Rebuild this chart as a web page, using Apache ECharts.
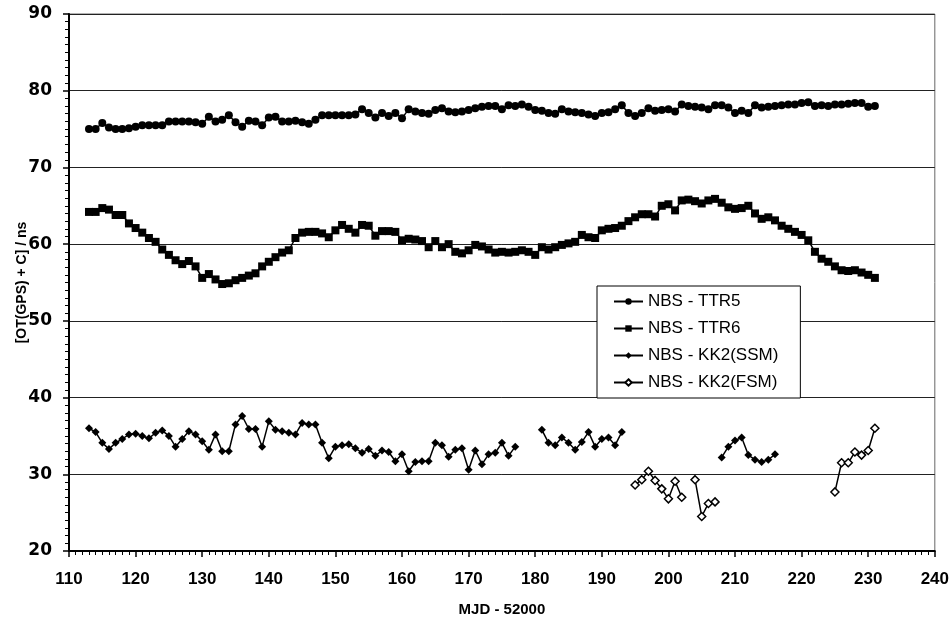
<!DOCTYPE html>
<html>
<head>
<meta charset="utf-8">
<script src="https://cdn.jsdelivr.net/npm/echarts@6/dist/echarts.min.js"></script>
<style>
  html, body { margin: 0; padding: 0; background: #fff; }
  #chart { width: 952px; height: 622px; }
</style>
</head>
<body>
<div id="chart"></div>
<script>
// MJD - 52000 for the two TTR receivers (one point per day)
var ttrDays = [
  113, 114, 115, 116, 117, 118, 119, 120, 121, 122,
  123, 124, 125, 126, 127, 128, 129, 130, 131, 132,
  133, 134, 135, 136, 137, 138, 139, 140, 141, 142,
  143, 144, 145, 146, 147, 148, 149, 150, 151, 152,
  153, 154, 155, 156, 157, 158, 159, 160, 161, 162,
  163, 164, 165, 166, 167, 168, 169, 170, 171, 172,
  173, 174, 175, 176, 177, 178, 179, 180, 181, 182,
  183, 184, 185, 186, 187, 188, 189, 190, 191, 192,
  193, 194, 195, 196, 197, 198, 199, 200, 201, 202,
  203, 204, 205, 206, 207, 208, 209, 210, 211, 212,
  213, 214, 215, 216, 217, 218, 219, 220, 221, 222,
  223, 224, 225, 226, 227, 228, 229, 230, 231
];
var ttr5 = [
  75.0, 75.0, 75.8, 75.2, 75.0, 75.0, 75.1, 75.3, 75.5, 75.5,
  75.5, 75.5, 76.0, 76.0, 76.0, 76.0, 75.9, 75.7, 76.6, 76.0,
  76.2, 76.8, 75.9, 75.3, 76.1, 76.0, 75.5, 76.5, 76.6, 76.0,
  76.0, 76.1, 75.9, 75.7, 76.2, 76.8, 76.8, 76.8, 76.8, 76.8,
  76.9, 77.6, 77.1, 76.5, 77.1, 76.7, 77.1, 76.4, 77.6, 77.3,
  77.1, 77.0, 77.5, 77.7, 77.3, 77.2, 77.3, 77.5, 77.7, 77.9,
  78.0, 78.0, 77.6, 78.1, 78.0, 78.2, 77.9, 77.5, 77.4, 77.1,
  77.0, 77.6, 77.3, 77.2, 77.1, 76.9, 76.7, 77.1, 77.2, 77.6,
  78.1, 77.1, 76.7, 77.1, 77.7, 77.4, 77.5, 77.6, 77.3, 78.2,
  78.0, 77.9, 77.8, 77.6, 78.1, 78.1, 77.8, 77.1, 77.4, 77.1,
  78.1, 77.8, 77.9, 78.0, 78.1, 78.2, 78.2, 78.4, 78.5, 78.0,
  78.1, 78.0, 78.2, 78.2, 78.3, 78.4, 78.4, 77.9, 78.0
];
var ttr6 = [
  64.2, 64.2, 64.7, 64.5, 63.8, 63.8, 62.7, 62.1, 61.5, 60.8,
  60.3, 59.3, 58.6, 57.9, 57.4, 57.8, 57.1, 55.6, 56.1, 55.4,
  54.8, 54.9, 55.3, 55.6, 55.9, 56.2, 57.1, 57.7, 58.3, 58.9,
  59.2, 60.8, 61.5, 61.6, 61.6, 61.4, 60.9, 61.8, 62.5, 62.0,
  61.5, 62.5, 62.4, 61.1, 61.7, 61.7, 61.6, 60.5, 60.7, 60.6,
  60.4, 59.6, 60.4, 59.6, 60.0, 59.0, 58.8, 59.2, 59.9, 59.7,
  59.3, 58.9, 59.0, 58.9, 59.0, 59.2, 59.0, 58.6, 59.6, 59.3,
  59.6, 59.9, 60.1, 60.3, 61.2, 60.9, 60.8, 61.8, 62.0, 62.1,
  62.4, 63.0, 63.5, 63.9, 63.9, 63.6, 65.0, 65.2, 64.4, 65.7,
  65.8, 65.6, 65.3, 65.7, 65.9, 65.4, 64.8, 64.6, 64.7, 65.0,
  64.0, 63.3, 63.5, 63.1, 62.4, 62.0, 61.6, 61.2, 60.5, 59.0,
  58.1, 57.7, 57.1, 56.6, 56.5, 56.6, 56.3, 56.0, 55.6
];

// KK2 single-station mode, null marks a break in the line
var ssmDays = [
  113, 114, 115, 116, 117, 118, 119, 120, 121, 122,
  123, 124, 125, 126, 127, 128, 129, 130, 131, 132,
  133, 134, 135, 136, 137, 138, 139, 140, 141, 142,
  143, 144, 145, 146, 147, 148, 149, 150, 151, 152,
  153, 154, 155, 156, 157, 158, 159, 160, 161, 162,
  163, 164, 165, 166, 167, 168, 169, 170, 171, 172,
  173, 174, 175, 176, 177, 178,
  181, 182, 183, 184, 185, 186, 187, 188, 189, 190,
  191, 192, 193, 194,
  208, 209, 210, 211, 212, 213, 214, 215, 216
];
var ssm = [
  36.0, 35.5, 34.1, 33.3, 34.1, 34.6, 35.2, 35.3, 35.0, 34.7,
  35.4, 35.7, 35.0, 33.6, 34.6, 35.6, 35.2, 34.3, 33.2, 35.2,
  33.0, 33.0, 36.5, 37.6, 35.9, 35.9, 33.6, 36.9, 35.8, 35.6,
  35.4, 35.2, 36.7, 36.5, 36.5, 34.1, 32.1, 33.6, 33.8, 33.9,
  33.4, 32.8, 33.3, 32.4, 33.1, 32.9, 31.7, 32.6, 30.4, 31.6,
  31.7, 31.7, 34.1, 33.8, 32.3, 33.2, 33.4, 30.6, 33.1, 31.3,
  32.6, 32.8, 34.1, 32.4, 33.6, null,
  35.8, 34.1, 33.8, 34.8, 34.1, 33.2, 34.2, 35.5, 33.6, 34.6,
  34.8, 33.8, 35.5, null,
  32.2, 33.6, 34.4, 34.8, 32.5, 31.9, 31.6, 31.9, 32.6
];

// KK2 in the other mode
var fsmDays = [195, 196, 197, 198, 199, 200, 201, 202, 203, 204, 205, 206, 207, 208,
  225, 226, 227, 228, 229, 230, 231];
var fsm = [28.6, 29.3, 30.4, 29.2, 28.1, 26.8, 29.1, 27.0, null, 29.3, 24.5, 26.2, 26.4, null,
  27.7, 31.5, 31.5, 32.9, 32.5, 33.1, 36.0];

var seriesNames = ["NBS - TTR5", "NBS - TTR6", "NBS - KK2(SSM)", "NBS - KK2(FSM)"];

function pairs(xs, ys) {
  var out = [];
  for (var i = 0; i < xs.length; i++) {
    out.push([xs[i], ys[i] === null ? "-" : ys[i]]);
  }
  return out;
}

var chartDom = document.getElementById("chart");
var myChart = echarts.init(chartDom, null, { renderer: "canvas" });
var option;

var lineStyle = { color: "#000", width: 1.5 };

option = {
  animation: false,
  backgroundColor: "#fff",
  textStyle: { fontFamily: "Liberation Sans, Arial, sans-serif", color: "#000" },
  grid: {
    left: 69,
    right: 16,
    top: 14,
    bottom: 71,
    show: true,
    borderColor: "#666",
    borderWidth: 1,
  },
  legend: {
    orient: "vertical",
    left: 597,
    top: 286,
    data: seriesNames,
    backgroundColor: "#fff",
    borderColor: "#000",
    borderWidth: 1,
    borderRadius: 0,
    padding: [7, 22, 7, 16],
    itemGap: 10,
    itemWidth: 29,
    itemHeight: 8,
    textStyle: {
      fontSize: 17,
      color: "#000",
      fontFamily: "Liberation Sans, Arial, sans-serif",
    },
  },
  xAxis: {
    type: "value",
    min: 110,
    max: 240,
    interval: 10,
    name: "MJD - 52000",
    nameLocation: "middle",
    nameGap: 51,
    nameMoveOverlap: false,
    nameTextStyle: { fontSize: 15, fontWeight: "bold", color: "#000" },
    axisLine: { lineStyle: { color: "#000", width: 2 } },
    axisTick: { show: true, length: 6, lineStyle: { color: "#000", width: 1.5 } },
    minorTick: { show: true, splitNumber: 10, length: 4, lineStyle: { color: "#000", width: 1 } },
    axisLabel: { margin: 20, fontSize: 17, fontWeight: "bold", color: "#000" },
    splitLine: { show: false },
  },
  yAxis: {
    type: "value",
    min: 20,
    max: 90,
    interval: 10,
    name: "[OT(GPS) + C] / ns",
    nameLocation: "middle",
    nameGap: 40,
    nameMoveOverlap: false,
    nameTextStyle: { fontSize: 14, fontWeight: "bold", color: "#000" },
    axisLine: { show: true, lineStyle: { color: "#000", width: 2 } },
    axisTick: { show: true, length: 6, lineStyle: { color: "#000", width: 1.5 } },
    minorTick: { show: true, splitNumber: 10, length: 4, lineStyle: { color: "#000", width: 1 } },
    axisLabel: {
      margin: 17,
      fontSize: 17,
      fontWeight: "bold",
      color: "#000",
      fontFamily: "DejaVu Sans, sans-serif",
    },
    splitLine: { show: true, lineStyle: { color: "#222", width: 1 } },
  },
  series: [
    {
      name: seriesNames[0],
      type: "line",
      data: pairs(ttrDays, ttr5),
      symbol: "circle",
      symbolSize: 8,
      itemStyle: { color: "#000" },
      lineStyle: lineStyle,
    },
    {
      name: seriesNames[1],
      type: "line",
      data: pairs(ttrDays, ttr6),
      symbol: "rect",
      symbolSize: 8,
      itemStyle: { color: "#000" },
      lineStyle: lineStyle,
    },
    {
      name: seriesNames[2],
      type: "line",
      data: pairs(ssmDays, ssm),
      connectNulls: false,
      symbol: "diamond",
      symbolSize: 8,
      itemStyle: { color: "#000" },
      lineStyle: lineStyle,
    },
    {
      name: seriesNames[3],
      type: "line",
      data: pairs(fsmDays, fsm),
      connectNulls: false,
      symbol: "diamond",
      symbolSize: 8,
      itemStyle: { color: "#fff", borderColor: "#000", borderWidth: 1.5 },
      lineStyle: lineStyle,
    },
  ],
};

option && myChart.setOption(option);
</script>
</body>
</html>
